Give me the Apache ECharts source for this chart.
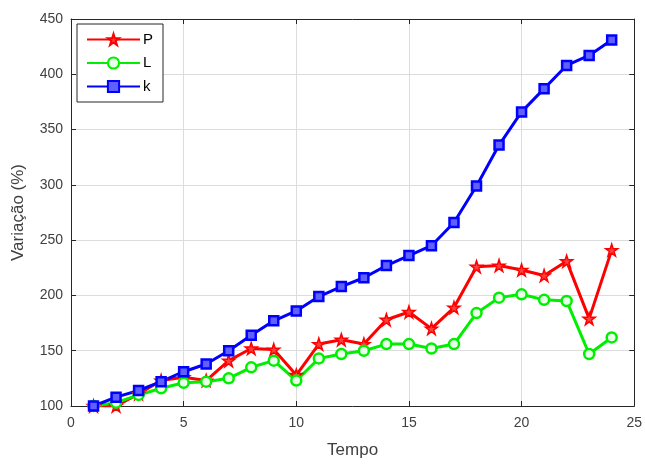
<!DOCTYPE html>
<html>
<head>
<meta charset="utf-8">
<script src="https://cdn.jsdelivr.net/npm/echarts@6/dist/echarts.min.js"></script>
<style>
	html, body { margin: 0; padding: 0; background: #fff; }
	#chart { width: 645px; height: 464px; }
</style>
</head>
<body>
<div id="chart"></div>
<script>
// dados
var tempo = [1, 2, 3, 4, 5, 6, 7, 8, 9, 10, 11, 12, 13, 14, 15, 16, 17, 18, 19, 20, 21, 22, 23, 24];
var serieP = [100, 100, 111, 123, 126, 123, 141, 152, 151, 128, 156, 160, 156, 178, 185, 170, 189, 226, 227, 223, 218, 231, 179, 241];
var serieL = [100, 103, 110, 116, 121, 122, 125, 135, 141, 123, 143, 147, 150, 156, 156, 152, 156, 184, 198, 201, 196, 195, 147, 162];
var serieK = [100, 108, 114, 122, 131, 138, 150, 164, 177, 186, 199, 208, 216, 227, 236, 245, 266, 299, 336, 366, 387, 408, 417, 431];
var xTicks = [0, 25, 5];
var yTicks = [100, 450, 50];

var starPath = 'path://M50,0 L61.8,35.5 L99,35.5 L69,57.5 L80.5,93 L50,71 L19.5,93 L31,57.5 L1,35.5 L38.2,35.5 Z';

function toPairs(ys) {
	var out = [];
	for (var i = 0; i < tempo.length; i++) {
		out.push([tempo[i], ys[i]]);
	}
	return out;
}

var axisColor = '#262626';
var labelColor = '#404040';
var fontName = 'Liberation Sans, Arial, sans-serif';

function makeX(showLabels) {
	return {
		type: 'value',
		min: xTicks[0],
		max: xTicks[1],
		interval: xTicks[2],
		position: showLabels ? 'bottom' : 'top',
		name: showLabels ? 'Tempo' : '',
		nameLocation: 'middle',
		nameGap: 36,
		nameTextStyle: { color: labelColor, fontSize: 17, fontFamily: fontName },
		axisLine: { show: true, onZero: false, lineStyle: { color: axisColor, width: 1 } },
		axisTick: { show: true, inside: true, length: 5, lineStyle: { color: axisColor } },
		axisLabel: { show: showLabels, color: labelColor, fontSize: 14, margin: 10, fontFamily: fontName },
		splitLine: { show: showLabels, lineStyle: { color: '#dcdcdc', width: 1 } }
	};
}

function makeY(showLabels) {
	return {
		type: 'value',
		min: yTicks[0],
		max: yTicks[1],
		interval: yTicks[2],
		position: showLabels ? 'left' : 'right',
		name: showLabels ? 'Variação (%)' : '',
		nameLocation: 'middle',
		nameGap: 44,
		nameTextStyle: { color: labelColor, fontSize: 17, fontFamily: fontName },
		axisLine: { show: true, onZero: false, lineStyle: { color: axisColor, width: 1 } },
		axisTick: { show: true, inside: true, length: 5, lineStyle: { color: axisColor } },
		axisLabel: { show: showLabels, color: labelColor, fontSize: 14, margin: 8, fontFamily: fontName },
		splitLine: { show: showLabels, lineStyle: { color: '#dcdcdc', width: 1 } }
	};
}

function makeSeries(name, ys, color, fill, symbol, size, bw) {
	return {
		name: name,
		type: 'line',
		xAxisIndex: 0,
		yAxisIndex: 0,
		data: toPairs(ys),
		symbol: symbol,
		symbolSize: size,
		showAllSymbol: true,
		lineStyle: { color: color, width: 3 },
		itemStyle: { color: fill, borderColor: color, borderWidth: bw },
		emphasis: { disabled: true },
		animation: false
	};
}

var chart = echarts.init(document.getElementById('chart'), null, { renderer: 'canvas' });
var option = {
	backgroundColor: '#fff',
	animation: false,
	grid: { left: 71, right: 10, top: 19, bottom: 55, containLabel: false },
	legend: {
		left: 77,
		top: 24,
		orient: 'vertical',
		backgroundColor: '#fff',
		borderColor: axisColor,
		borderWidth: 1,
		borderRadius: 0,
		padding: [8, 10, 8, 9],
		itemWidth: 53,
		itemHeight: 14,
		itemGap: 8.5,
		textStyle: { color: '#000', fontSize: 15, fontFamily: fontName, padding: [0, 0, 0, -2] },
		data: ['P', 'L', 'k']
	},
	xAxis: [makeX(true), makeX(false)],
	yAxis: [makeY(true), makeY(false)],
	series: [
		makeSeries('P', serieP, '#ff0000', '#ff4040', starPath, 12, 1.5),
		makeSeries('L', serieL, '#00ee00', '#e8ffe8', 'circle', 10, 2.5),
		makeSeries('k', serieK, '#0000ff', '#6060ff', 'rect', 9, 2.5)
	]
};
chart.setOption(option);
</script>
</body>
</html>
